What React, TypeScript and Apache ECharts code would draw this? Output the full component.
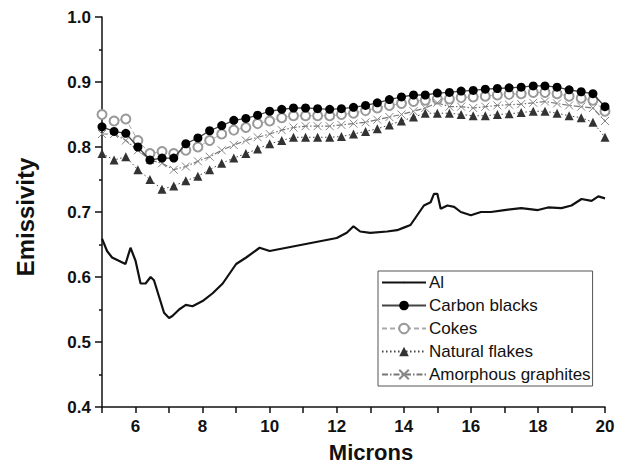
import React, { useEffect, useRef } from "react";
import * as echarts from "echarts";

const microns = [5.0, 5.36, 5.71, 6.07, 6.43, 6.79, 7.14, 7.5, 7.86, 8.21, 8.57, 8.93, 9.29, 9.64, 10.0, 10.36, 10.71, 11.07, 11.43, 11.79, 12.14, 12.5, 12.86, 13.21, 13.57, 13.93, 14.29, 14.64, 15.0, 15.36, 15.71, 16.07, 16.43, 16.79, 17.14, 17.5, 17.86, 18.21, 18.57, 18.93, 19.29, 19.64, 20.0];

const carbonBlacks = [0.831, 0.824, 0.821, 0.8, 0.78, 0.783, 0.783, 0.805, 0.814, 0.825, 0.833, 0.841, 0.844, 0.849, 0.855, 0.858, 0.86, 0.86, 0.859, 0.858, 0.859, 0.861, 0.864, 0.868, 0.873, 0.877, 0.88, 0.88, 0.883, 0.884, 0.886, 0.887, 0.889, 0.89, 0.891, 0.892, 0.894, 0.894, 0.892, 0.888, 0.885, 0.882, 0.862];

const cokes = [0.85, 0.84, 0.843, 0.81, 0.79, 0.793, 0.79, 0.795, 0.8, 0.81, 0.82, 0.826, 0.83, 0.836, 0.84, 0.845, 0.848, 0.848, 0.848, 0.848, 0.85, 0.852, 0.856, 0.86, 0.864, 0.867, 0.87, 0.872, 0.874, 0.874, 0.876, 0.877, 0.878, 0.88, 0.881, 0.882, 0.884, 0.884, 0.882, 0.878, 0.875, 0.872, 0.855];

const naturalFlakes = [0.79, 0.78, 0.785, 0.765, 0.75, 0.735, 0.74, 0.748, 0.755, 0.765, 0.775, 0.783, 0.79, 0.797, 0.805, 0.81, 0.815, 0.815, 0.815, 0.815, 0.816, 0.82, 0.824, 0.828, 0.834, 0.84, 0.846, 0.852, 0.852, 0.852, 0.85, 0.848, 0.848, 0.85, 0.851, 0.853, 0.855, 0.855, 0.852, 0.848, 0.845, 0.838, 0.815];

const amorphousGraphites = [0.82, 0.82, 0.81, 0.795, 0.78, 0.775, 0.765, 0.77, 0.778, 0.785, 0.795, 0.803, 0.81, 0.815, 0.82, 0.826, 0.83, 0.832, 0.832, 0.832, 0.834, 0.836, 0.838, 0.842, 0.846, 0.85, 0.855, 0.86, 0.868, 0.862, 0.862, 0.86, 0.862, 0.864, 0.865, 0.866, 0.868, 0.87, 0.867, 0.864, 0.862, 0.86, 0.84];

const alMicrons = [5.0, 5.15, 5.3, 5.5, 5.7, 5.85, 6.0, 6.15, 6.3, 6.45, 6.55, 6.7, 6.85, 7.0, 7.1, 7.3, 7.5, 7.7, 8.0, 8.3, 8.6, 9.0, 9.3, 9.7, 10.0, 10.5, 11.0, 11.5, 12.0, 12.3, 12.5, 12.7, 13.0, 13.5, 13.8, 14.0, 14.2, 14.4, 14.6, 14.8, 14.9, 15.0, 15.1, 15.3, 15.5, 15.7, 16.0, 16.3, 16.6, 17.0, 17.5, 18.0, 18.3, 18.7, 19.0, 19.3, 19.6, 19.8, 20.0];
const alValues = [0.659, 0.64, 0.63, 0.625, 0.62, 0.645, 0.625, 0.59, 0.59, 0.6, 0.595, 0.57, 0.545, 0.537, 0.54, 0.55, 0.557, 0.555, 0.563, 0.575, 0.59, 0.62, 0.63, 0.645, 0.64, 0.645, 0.65, 0.655, 0.66, 0.668, 0.678, 0.67, 0.668, 0.67, 0.672, 0.676, 0.68, 0.695, 0.71, 0.715, 0.728, 0.728, 0.705, 0.71, 0.708, 0.7, 0.695, 0.7, 0.7, 0.703, 0.706, 0.703, 0.707, 0.706, 0.71, 0.72, 0.717, 0.724, 0.721];

const xTickLabels = ["6", "8", "10", "12", "14", "16", "18", "20"];

const FONT = "Arial, 'Liberation Sans', Helvetica, sans-serif";

const pair = (xs: number[], ys: number[]) => xs.map((x, i) => [x, ys[i]]);

export default function App() {
  const ref = useRef<HTMLDivElement>(null);
  useEffect(() => {
    if (!ref.current) return;
    const chart = echarts.init(ref.current, null, { renderer: "svg" });
    const xPath = "path://M0,0L10,10M10,0L0,10";
    const tinyDot = "path://M0,0M20,20M8.3,10a1.7,1.7 0 1,0 3.4,0a1.7,1.7 0 1,0 -3.4,0";
    chart.setOption({
      animation: false,
      backgroundColor: "#ffffff",
      grid: { left: 102, right: 20, top: 17, bottom: 59, containLabel: false },
      legend: {
        orient: "vertical",
        left: 378,
        top: 271,
        padding: [3, 2, 3, 3],
        itemWidth: 44,
        itemHeight: 12,
        itemGap: 6,
        borderColor: "#555",
        borderWidth: 1,
        textStyle: { fontFamily: FONT, fontSize: 17, color: "#111", padding: [0, 0, 0, -2] },
        data: ["Al", "Carbon blacks", "Cokes", "Natural flakes", "Amorphous graphites"],
      },
      xAxis: {
        type: "value",
        min: 5,
        max: 20,
        interval: 1,
        axisLine: { show: true, lineStyle: { color: "#111", width: 1.5 } },
        axisTick: { show: true, length: 6, lineStyle: { color: "#111", width: 1.5 } },
        splitLine: { show: false },
        axisLabel: {
          margin: 11,
          fontFamily: FONT,
          fontSize: 17,
          fontWeight: "bold",
          color: "#111",
          formatter: (v: number) => {
            const s = String(Math.round(v));
            return xTickLabels.includes(s) ? s : "";
          },
        },
      },
      yAxis: {
        type: "value",
        min: 0.4,
        max: 1.0,
        interval: 0.1,
        axisLine: { show: true, lineStyle: { color: "#111", width: 1.5 } },
        axisTick: { show: true, length: 7, lineStyle: { color: "#111", width: 1.5 } },
        minorTick: { show: true, splitNumber: 2, length: 3, lineStyle: { color: "#111", width: 1.5 } },
        splitLine: { show: false },
        axisLabel: {
          margin: 11,
          fontFamily: FONT,
          fontSize: 17,
          fontWeight: "bold",
          color: "#111",
          formatter: (v: number) => v.toFixed(1),
        },
      },
      graphic: [
        {
          type: "text",
          x: 371,
          y: 452,
          style: { text: "Microns", font: `bold 22px ${FONT}`, fill: "#111", align: "center", verticalAlign: "middle" },
        },
        {
          type: "text",
          x: 25,
          y: 217,
          rotation: Math.PI / 2,
          style: { text: "Emissivity", font: `bold 24px ${FONT}`, fill: "#111", align: "center", verticalAlign: "middle" },
        },
      ],
      series: [
        {
          name: "Al",
          type: "line",
          data: pair(alMicrons, alValues),
          symbol: tinyDot,
          symbolSize: 12,
          showSymbol: false,
          lineStyle: { color: "#111", width: 2.2 },
          itemStyle: { color: "#111" },
          z: 3,
        },
        {
          name: "Carbon blacks",
          type: "line",
          data: pair(microns, carbonBlacks),
          symbol: "circle",
          symbolSize: 9,
          lineStyle: { color: "#444", width: 1.3 },
          itemStyle: { color: "#000" },
          z: 5,
        },
        {
          name: "Cokes",
          type: "line",
          data: pair(microns, cokes),
          symbol: "emptyCircle",
          symbolSize: 9,
          lineStyle: { color: "#aaa", width: 1, type: [5, 3] },
          itemStyle: { color: "#999", borderWidth: 1 },
          z: 4,
        },
        {
          name: "Natural flakes",
          type: "line",
          data: pair(microns, naturalFlakes),
          symbol: "triangle",
          symbolSize: 9,
          lineStyle: { color: "#444", width: 1, type: [1.5, 2.5] },
          itemStyle: { color: "#333" },
          z: 4,
        },
        {
          name: "Amorphous graphites",
          type: "line",
          data: pair(microns, amorphousGraphites),
          symbol: xPath,
          symbolSize: 8,
          lineStyle: { color: "#777", width: 1.2, type: [6, 2, 1.5, 2] },
          itemStyle: { color: "none", borderColor: "#888", borderWidth: 1 },
          z: 4,
        },
      ],
    });
    return () => chart.dispose();
  }, []);
  return <div ref={ref} style={{ width: 625, height: 466, position: "absolute", left: 0, top: 0 }} />;
}
